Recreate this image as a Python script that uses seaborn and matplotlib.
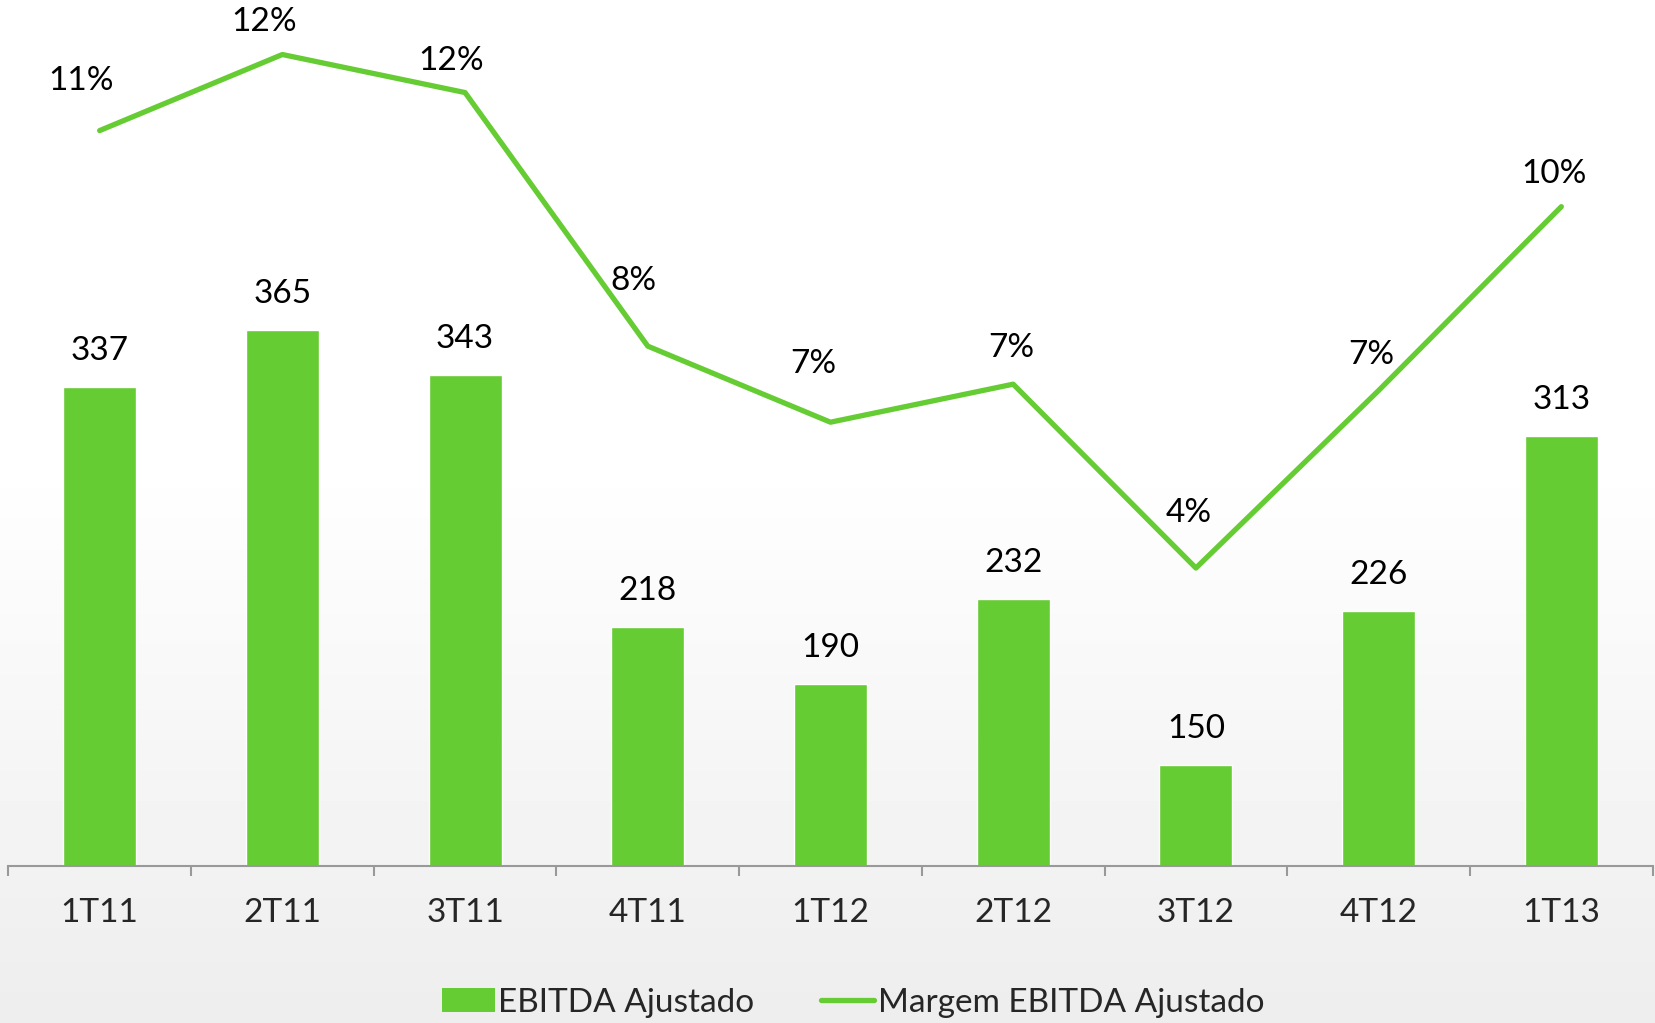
import matplotlib
matplotlib.use("Agg")
import matplotlib.pyplot as plt
import seaborn as sns
import numpy as np
from matplotlib.patches import Patch
from matplotlib.lines import Line2D

# data
quarters = ["1T11", "2T11", "3T11", "4T11", "1T12", "2T12", "3T12", "4T12", "1T13"]
ebitda = [337, 365, 343, 218, 190, 232, 150, 226, 313]
margem = [11.2, 12.4, 11.8, 7.8, 6.6, 7.2, 4.3, 7.1, 10.0]  # %

green = "#66CC33"
fs = 24

sns.set_theme(style="white")
plt.rcParams["font.family"] = ["Lato", "DejaVu Sans"]

fig = plt.figure(figsize=(16.56, 10.23), dpi=100)

# faint grey wash at the top of the slide
bg = fig.add_axes([0, 0, 1, 1], zorder=-10)
grad = np.clip(np.linspace(1, 0, 300) * 1.8 - 0.8, 0, 1)[:, None]
bg.imshow(1 - 0.07 * grad, cmap="gray", vmin=0, vmax=1, aspect="auto",
          extent=[0, 1, 0, 1], origin="lower")
bg.axis("off")

ax = fig.add_axes([0.005, 0.1535, 0.993, 0.8465])
ax.patch.set_alpha(0)

sns.barplot(x=quarters, y=ebitda, color=green, width=0.4, saturation=1, ax=ax)
ax.set_ylim(100, 528.5)
ax.set_xlim(-0.5, 8.5)

# bar value labels
for i, v in enumerate(ebitda):
    ax.annotate(str(v), (i, v), xytext=(0, 36), textcoords="offset pixels",
                ha="center", va="center", fontsize=fs, color="black")

ax2 = ax.twinx()
ax2.patch.set_alpha(0)
x = np.arange(len(quarters))
sns.lineplot(x=x, y=margem, color=green, linewidth=3.8, ax=ax2)
ax2.set_ylim(-0.40, 13.26)
ax2.set_xlim(-0.5, 8.5)

# label nudges in pixels (Excel placement)
nudge = [(-19, 50), (-18, 33), (-14, 32), (-14, 65), (-17, 58),
         (-2, 36), (-7, 55), (-7, 36), (-7, 33)]
for i, v in enumerate(margem):
    ax2.annotate(f"{v:.0f}%", (i, v), xytext=nudge[i], textcoords="offset pixels",
                 ha="center", va="center", fontsize=fs, color="black")

for a in (ax, ax2):
    for s in ("top", "left", "right"):
        a.spines[s].set_visible(False)
    a.set_yticks([])
    a.set_ylabel("")
ax2.spines["bottom"].set_visible(False)
ax.spines["bottom"].set_color("#999999")
ax.spines["bottom"].set_linewidth(1.5)

ax.set_xticks(x)
ax.set_xticklabels(quarters, fontsize=fs)
ax.tick_params(axis="x", which="major", length=0, pad=23)
ax.set_xticks(np.arange(-0.5, 9, 1), minor=True)
ax.tick_params(axis="x", which="minor", length=7, width=1.5, color="#999999",
               direction="out", bottom=True)
ax.set_xlabel("")

handles = [Patch(facecolor=green, edgecolor="none"),
           Line2D([0], [0], color=green, linewidth=3.8)]
fig.legend(handles, ["EBITDA Ajustado", "Margem EBITDA Ajustado"],
           loc="center", bbox_to_anchor=(0.515, 0.02), ncol=2, frameon=False,
           fontsize=fs, handlelength=1.6, handletextpad=0.1, columnspacing=2.0)

fig.savefig("out.png", dpi=100, facecolor="white")
